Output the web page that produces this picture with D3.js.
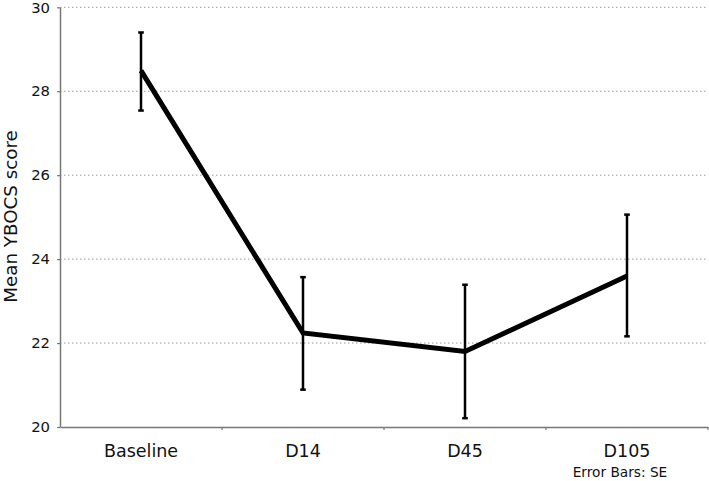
<!DOCTYPE html>
<html>
<head>
<meta charset="utf-8">
<script src="https://cdn.jsdelivr.net/npm/d3@7"></script>
<style>
  body { margin: 0; background: #fff; }
  svg { display: block; font-family: 'DejaVu Sans', sans-serif; }
</style>
</head>
<body>
<div id="main"></div>
<script>
// categories and series values
const visits = ['Baseline', 'D14', 'D45', 'D105'];
const means = [28.49, 22.24, 21.80, 23.60];
const upper = [29.40, 23.57, 23.39, 25.06];
const lower = [27.54, 20.89, 20.21, 22.16];
const yTicks = [20, 22, 24, 26, 28, 30];

function main() {
  const width = 709;
  const height = 481;
  const left = 60;
  const right = 708;
  const top = 7.3;
  const bottom = 427;

  const xScale = d3.scaleBand()
    .domain(visits)
    .range([left, right]);

  const yScale = d3.scaleLinear()
    .domain([20, 30])
    .range([bottom, top]);

  const svg = d3.select('#main')
    .append('svg')
    .attr('width', width)
    .attr('height', height);

  // dotted grid lines
  svg.append('g')
    .selectAll('line')
    .data(yTicks.filter(d => d > 20))
    .enter()
    .append('line')
    .attr('x1', left)
    .attr('x2', right)
    .attr('y1', d => yScale(d))
    .attr('y2', d => yScale(d))
    .style('stroke', '#999')
    .style('stroke-width', 1)
    .style('stroke-dasharray', '1.5,2.5');

  // y axis
  const yAxis = d3.axisLeft(yScale)
    .tickValues(yTicks)
    .tickSizeInner(3)
    .tickSizeOuter(0)
    .tickPadding(7);
  const gy = svg.append('g')
    .attr('transform', `translate(${left},0)`)
    .call(yAxis);
  gy.select('.domain').style('stroke', '#777').style('stroke-width', 1.5);
  gy.selectAll('.tick line').style('stroke', '#777').style('stroke-width', 1.2);
  gy.selectAll('.tick text')
    .style('font-family', 'DejaVu Sans')
    .style('font-size', '14.8px')
    .style('fill', '#111');

  // x axis with ticks at band boundaries
  const xAxis = d3.axisBottom(xScale).tickSize(0).tickPadding(18);
  const gx = svg.append('g')
    .attr('transform', `translate(0,${bottom})`)
    .call(xAxis);
  gx.select('.domain').style('stroke', '#777').style('stroke-width', 1.5);
  gx.selectAll('.tick text')
    .style('font-family', 'DejaVu Sans')
    .style('font-size', '17.5px')
    .style('fill', '#111');
  gx.selectAll('.bound')
    .data(visits.slice(1).concat(['end']))
    .enter()
    .append('line')
    .attr('x1', (d, i) => left + xScale.bandwidth() * (i + 1))
    .attr('x2', (d, i) => left + xScale.bandwidth() * (i + 1))
    .attr('y1', 0)
    .attr('y2', 3)
    .style('stroke', '#777')
    .style('stroke-width', 1.2);

  const cx = d => xScale(d) + xScale.bandwidth() / 2;

  // error bars
  const bars = svg.append('g');
  bars.selectAll('.err')
    .data(visits)
    .enter()
    .append('line')
    .attr('x1', d => cx(d))
    .attr('x2', d => cx(d))
    .attr('y1', (d, i) => yScale(upper[i]))
    .attr('y2', (d, i) => yScale(lower[i]))
    .style('stroke', '#000')
    .style('stroke-width', 2.5);
  [upper, lower].forEach(vals => {
    bars.selectAll(null)
      .data(visits)
      .enter()
      .append('line')
      .attr('x1', d => cx(d) - 2.8)
      .attr('x2', d => cx(d) + 2.8)
      .attr('y1', (d, i) => yScale(vals[i]))
      .attr('y2', (d, i) => yScale(vals[i]))
      .style('stroke', '#000')
      .style('stroke-width', 2.5);
  });

  // mean line
  const line = d3.line()
    .x(d => cx(d[0]))
    .y(d => yScale(d[1]));
  svg.append('path')
    .datum(visits.map((v, i) => [v, means[i]]))
    .attr('d', line)
    .style('fill', 'none')
    .style('stroke', '#000')
    .style('stroke-width', 5)
    .style('stroke-linejoin', 'miter');

  // y axis label
  svg.append('text')
    .attr('transform', 'rotate(-90)')
    .attr('x', -216.5)
    .attr('y', 16.5)
    .style('font-size', '18.3px')
    .style('text-anchor', 'middle')
    .style('fill', '#111')
    .text('Mean YBOCS score');

  // footnote
  svg.append('text')
    .attr('x', 620)
    .attr('y', 477)
    .style('font-size', '13.7px')
    .style('text-anchor', 'middle')
    .style('fill', '#111')
    .text('Error Bars: SE');
}

document.addEventListener('DOMContentLoaded', main);
</script>
</body>
</html>
